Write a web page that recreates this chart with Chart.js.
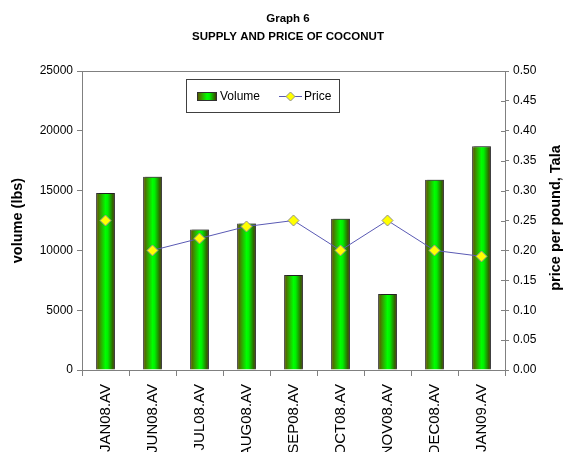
<!DOCTYPE html>
<html>
<head>
<meta charset="utf-8">
<script src="https://cdn.jsdelivr.net/npm/chart.js@4/dist/chart.umd.min.js"></script>
<style>
  html, body { margin: 0; padding: 0; background: #fff; overflow: hidden; }
  #wrap { width: 563px; height: 452px; position: relative; }
</style>
</head>
<body>
<div id="wrap"><canvas id="myChart"></canvas></div>
<script>
// dati
const months = ["JAN08.AV", "JUN08.AV", "JUL08.AV", "AUG08.AV", "SEP08.AV", "OCT08.AV", "NOV08.AV", "DEC08.AV", "JAN09.AV"];
const volume = [14800, 16150, 11750, 12250, 7950, 12650, 6350, 15900, 18700];
const price = [0.25, 0.20, 0.22, 0.24, 0.25, 0.20, 0.25, 0.20, 0.19];
const titleLines = ["Graph 6", "SUPPLY AND PRICE OF COCONUT"];
const leftTitle = "volume (lbs)";
const rightTitle = "price per pound, Tala";

const FONT = "'Liberation Sans', Arial, sans-serif";
const BAR_PCT = 0.4;

// gradiente orizzontale delle barre (marrone - verde - marrone)
function makeGradient(c, x0, x1) {
  const g = c.createLinearGradient(x0, 0, x1, 0);
  g.addColorStop(0, "#634800");
  g.addColorStop(0.5, "#00ff00");
  g.addColorStop(0.62, "#00f000");
  g.addColorStop(1, "#432800");
  return g;
}

function barGradient(ctx) {
  const chart = ctx.chart;
  const xs = chart.scales.x;
  if (!chart.chartArea || !xs || ctx.dataIndex === undefined) return "#00ff00";
  const cx = xs.getPixelForValue(ctx.dataIndex);
  const half = (xs.width / months.length) * BAR_PCT / 2;
  return makeGradient(chart.ctx, cx - half, cx + half);
}

// legenda dentro l'area del grafico + titolo asse destro
const extras = {
  id: "extras",
  beforeDatasetDraw(chart, args) {
    if (args.index === 1) {
      const c = chart.ctx;
      c.save();
      c.shadowColor = "rgba(0,0,0,0.3)";
      c.shadowOffsetX = 2;
      c.shadowOffsetY = -1;
      c.shadowBlur = 0;
    }
  },
  afterDatasetDraw(chart, args) {
    if (args.index === 1) chart.ctx.restore();
  },
  afterDraw(chart) {
    const c = chart.ctx;
    const area = chart.chartArea;
    c.save();

    // tacche interne asse destro
    const y1 = chart.scales.y1;
    c.strokeStyle = "#808080";
    c.lineWidth = 1;
    y1.ticks.forEach((t) => {
      const y = Math.round(y1.getPixelForValue(t.value)) + 0.5;
      c.beginPath();
      c.moveTo(area.right - 4, y);
      c.lineTo(area.right, y);
      c.stroke();
    });

    // titolo asse destro
    c.fillStyle = "#000";
    c.font = "bold 14.5px " + FONT;
    c.textAlign = "center";
    c.textBaseline = "middle";
    c.translate(556, 218);
    c.rotate(-Math.PI / 2);
    c.fillText(rightTitle, 0, 0);
    c.restore();

    // legenda
    c.save();
    c.fillStyle = "#fff";
    c.fillRect(186.5, 79.5, 153, 33);
    c.strokeStyle = "#404040";
    c.lineWidth = 1;
    c.strokeRect(186.5, 79.5, 153, 33);

    c.fillStyle = makeGradient(c, 197, 217);
    c.fillRect(197, 92, 20, 9);
    c.strokeStyle = "#303030";
    c.strokeRect(197.5, 92.5, 19, 8);

    c.fillStyle = "#000";
    c.font = "12px " + FONT;
    c.textAlign = "left";
    c.textBaseline = "middle";
    c.fillText(chart.data.datasets[1].label, 220, 97);

    c.strokeStyle = "#5a5ab4";
    c.beginPath();
    c.moveTo(279, 96.5);
    c.lineTo(302, 96.5);
    c.stroke();
    c.beginPath();
    c.moveTo(290.5, 92);
    c.lineTo(295, 96.5);
    c.lineTo(290.5, 101);
    c.lineTo(286, 96.5);
    c.closePath();
    c.fillStyle = "#ffff00";
    c.fill();
    c.strokeStyle = "#909090";
    c.stroke();
    c.fillStyle = "#000";
    c.fillText(chart.data.datasets[0].label, 304, 97);
    c.restore();
  },
};

const ctx = document.getElementById("myChart").getContext("2d");
const myChart = new Chart(ctx, {
  type: "bar",
  data: {
    labels: months,
    datasets: [
      {
        type: "line",
        label: "Price",
        data: price,
        yAxisID: "y1",
        order: 0,
        borderColor: "#5a5ab4",
        borderWidth: 1,
        pointStyle: "rectRot",
        pointRadius: 5.5,
        pointBackgroundColor: "#ffff00",
        pointBorderColor: "#909090",
        pointBorderWidth: 1,
        tension: 0,
        segment: {
          borderColor: (s) => (s.p0DataIndex === 0 ? "transparent" : "#5a5ab4"),
        },
      },
      {
        label: "Volume",
        data: volume,
        yAxisID: "y",
        order: 1,
        backgroundColor: barGradient,
        borderColor: "#303030",
        borderWidth: 1,
        barPercentage: BAR_PCT,
        categoryPercentage: 1,
      },
    ],
  },
  options: {
    responsive: true,
    maintainAspectRatio: false,
    animation: false,
    layout: { padding: { left: 13, right: 0, top: 0, bottom: 0 } },
    plugins: {
      legend: { display: false },
      tooltip: { enabled: false },
      title: {
        display: true,
        text: titleLines,
        color: "#000",
        font: { family: FONT, size: 11.5, weight: "bold", lineHeight: "18px" },
        padding: { top: 10, bottom: 25 },
      },
    },
    scales: {
      x: {
        afterFit: (s) => { s.height = 82; },
        border: { color: "#808080" },
        grid: { offset: true, drawOnChartArea: false, tickLength: 6, color: "#808080" },
        ticks: {
          autoSkip: false,
          minRotation: 90,
          maxRotation: 90,
          padding: 8,
          color: "#000",
          font: { family: FONT, size: 15 },
        },
      },
      y: {
        position: "left",
        min: 0,
        max: 25000,
        afterFit: (s) => { s.width = 69; },
        border: { color: "#808080" },
        grid: {
          color: (c) => (c.tick && c.tick.value === 25000 ? "#808080" : "transparent"),
          tickColor: "#808080",
          tickLength: 5,
        },
        ticks: {
          stepSize: 5000,
          padding: 4,
          color: "#000",
          font: { family: FONT, size: 12 },
          callback: (v) => String(v),
        },
        title: {
          display: true,
          text: leftTitle,
          color: "#000",
          font: { family: FONT, size: 14.5, weight: "bold", lineHeight: 0.7 },
          padding: { top: 0, bottom: 0 },
        },
      },
      y1: {
        position: "right",
        min: 0,
        max: 0.5,
        afterFit: (s) => { s.width = 58; },
        border: { color: "#808080" },
        grid: { drawOnChartArea: false, tickColor: "#808080", tickLength: 4 },
        ticks: {
          stepSize: 0.05,
          padding: 4,
          color: "#000",
          font: { family: FONT, size: 12 },
          callback: (v) => Number(v).toFixed(2),
        },
      },
    },
  },
  plugins: [extras],
});
</script>
</body>
</html>
